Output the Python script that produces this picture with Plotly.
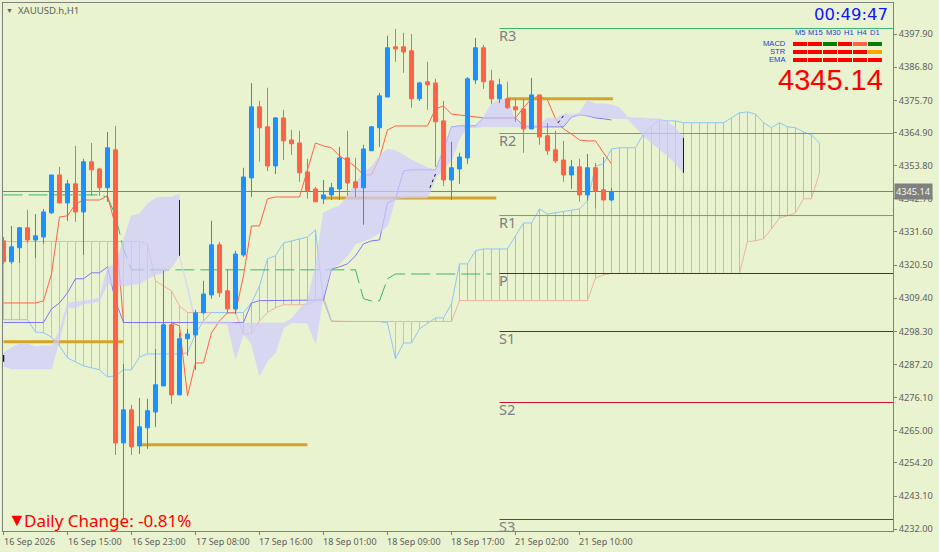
import plotly.graph_objects as go

opens = [4328.6,4321.6,4326.3,4333.0,4328.9,4329.9,4338.0,4350.7,4341.3,4347.7,4338.3,4355.1,4352.7,4346.4,4359.1,4260.9,4272.0,4259.9,4266.0,4271.3,4280.0,4300.5,4277.0,4295.8,4297.1,4304.5,4310.5,4327.3,4311.9,4305.8,4323.9,4349.7,4373.5,4366.8,4353.7,4369.8,4362.4,4361.4,4351.7,4346.0,4342.7,4344.0,4346.0,4356.4,4348.4,4346.4,4358.8,4366.5,4376.8,4393.6,4393.6,4392.3,4376.2,4381.9,4381.5,4368.8,4349.0,4352.7,4356.4,4382.5,4393.3,4382.2,4376.2,4376.2,4373.5,4372.8,4366.1,4377.5,4363.8,4359.1,4355.7,4350.7,4353.4,4344.0,4353.1,4345.7,4342.3]
closes = [4321.6,4326.6,4333.0,4328.9,4330.3,4338.3,4350.7,4341.3,4347.7,4338.3,4355.1,4352.4,4346.4,4359.8,4260.9,4272.0,4259.6,4266.3,4271.7,4280.4,4300.5,4277.0,4295.8,4297.4,4304.5,4310.8,4327.3,4311.2,4305.8,4324.2,4350.0,4373.5,4366.5,4353.7,4369.8,4362.1,4361.1,4351.4,4345.4,4341.7,4344.0,4346.4,4356.4,4348.0,4346.4,4359.4,4366.8,4377.2,4393.3,4392.9,4391.9,4376.2,4381.5,4380.9,4368.5,4349.0,4353.1,4356.7,4382.9,4393.3,4381.9,4376.2,4380.9,4373.2,4372.5,4366.1,4377.5,4363.4,4358.8,4355.4,4350.7,4353.4,4344.0,4353.1,4345.4,4342.3,4345.14]
highs = [4329.9,4333.6,4333.3,4339.0,4337.6,4339.3,4350.7,4353.4,4349.0,4360.4,4356.1,4361.4,4353.1,4365.1,4367.1,4287.4,4273.7,4276.0,4275.7,4292.4,4318.6,4301.1,4297.8,4299.1,4305.5,4315.2,4335.3,4328.3,4319.2,4325.3,4353.1,4381.5,4375.5,4379.9,4370.1,4372.5,4365.8,4365.5,4356.1,4346.7,4349.0,4348.0,4360.1,4365.5,4356.4,4360.8,4367.1,4378.2,4397.3,4399.6,4398.3,4397.9,4381.9,4388.6,4382.9,4375.5,4361.8,4358.1,4383.5,4396.6,4394.3,4385.9,4382.9,4381.9,4376.2,4376.2,4383.2,4377.5,4368.1,4365.5,4362.1,4355.7,4356.1,4357.7,4354.7,4356.7,4346.4]
lows = [4320.9,4320.9,4321.2,4327.9,4322.9,4327.6,4337.6,4341.3,4335.3,4335.0,4323.9,4343.7,4343.7,4341.7,4256.9,4235.5,4256.9,4257.2,4258.9,4266.3,4280.0,4274.0,4277.0,4290.1,4285.4,4304.1,4309.2,4309.8,4304.1,4304.1,4323.2,4343.3,4355.1,4352.0,4351.0,4355.7,4357.4,4348.4,4342.7,4341.7,4341.0,4342.3,4342.3,4343.7,4343.3,4334.0,4358.8,4360.1,4376.8,4388.6,4384.9,4373.2,4375.5,4372.5,4353.4,4347.0,4342.3,4347.7,4354.4,4381.2,4379.5,4374.5,4374.8,4372.8,4368.5,4358.1,4366.1,4360.8,4357.4,4354.7,4348.4,4346.0,4341.7,4342.0,4339.7,4342.3,4342.0]

tenkan = [4307.8,4307.8,4307.8,4307.8,4307.8,4308.5,4317.5,4336.6,4337.0,4341.0,4342.3,4342.3,4342.3,4343.7,4333.6,4301.25,4301.25,4301.25,4301.25,4301.25,4301.25,4301.25,4300.1,4276.7,4287.7,4287.7,4297.8,4301.8,4304.5,4304.5,4316.9,4333.6,4333.6,4342.7,4343.3,4343.3,4343.3,4343.3,4352.4,4361.4,4360.4,4359.8,4357.1,4355.4,4353.4,4350.7,4350.7,4356.4,4365.8,4367.1,4367.1,4367.1,4367.1,4367.1,4372.8,4373.8,4371.1,4370.8,4370.5,4370.1,4369.8,4369.8,4369.8,4369.8,4369.8,4373.2,4376.2,4377.2,4375.8,4369.5,4366.1,4364.4,4362.4,4362.1,4362.1,4358.1,4354.4]
kijun = [4301.25,4301.25,4301.25,4301.25,4301.25,4301.25,4305.8,4307.8,4311.2,4315.9,4315.9,4317.9,4317.9,4319.9,4308.5,4301.25,4301.25,4301.25,4301.25,4301.25,4301.25,4301.25,4301.25,4301.25,4301.25,4301.25,4301.25,4301.25,4301.25,4301.25,4301.25,4307.8,4308.6,4308.6,4308.6,4308.6,4308.6,4308.6,4308.6,4308.6,4308.8,4319.2,4319.9,4320.9,4323.6,4327.6,4328.6,4328.9,4341.3,4342.7,4352.0,4352.4,4352.4,4352.4,4352.4,4358.8,4366.8,4367.1,4367.1,4367.1,4369.8,4369.8,4369.8,4369.8,4369.8,4367.1,4366.8,4366.8,4366.8,4366.8,4366.8,4370.1,4370.8,4370.5,4369.8,4369.5,4369.1]
chikou = [4344.0,4344.0,4344.0,4344.0,4344.0,4344.0,4344.0,4344.0,4344.0,4344.0,4344.0,4344.0,4344.0,4343.3,4337.0,4325.9,4318.9,4318.9,4318.9,4318.9,4318.9,4318.9,4318.9,4318.9,4318.9,4318.9,4318.9,4318.9,4318.9,4318.9,4318.9,4318.9,4318.9,4318.9,4318.9,4318.9,4318.9,4318.9,4318.9,4318.9,4318.9,4318.9,4318.9,4318.9,4318.9,4309.2,4308.5,4308.5,4315.9,4317.5,4317.5,4317.5,4317.5,4317.5,4317.5,4317.5,4317.5,4317.5,4317.5,4317.5,4317.5,4317.5]
span_a = [4302.2,4302.2,4302.2,4302.2,4298.1,4297.8,4296.4,4293.4,4289.4,4288.1,4286.7,4286.1,4285.4,4283.0,4283.4,4285.4,4285.4,4289.7,4290.7,4290.7,4290.7,4290.7,4290.7,4291.1,4297.4,4301.8,4304.6,4304.6,4304.6,4304.6,4304.6,4307.8,4313.5,4322.6,4323.6,4327.9,4328.6,4329.3,4329.9,4332.3,4308.5,4301.6,4301.6,4301.6,4301.6,4301.6,4301.6,4301.6,4301.1,4289.1,4294.4,4294.4,4299.1,4301.1,4302.8,4302.8,4307.5,4320.9,4320.9,4325.3,4325.9,4325.9,4325.9,4325.9,4330.3,4334.6,4334.6,4339.3,4337.6,4338.0,4338.3,4338.7,4339.3,4342.0,4353.7,4354.4,4359.4,4359.8,4359.8,4359.8,4364.4,4367.1,4369.1,4368.8,4368.8,4368.2,4368.2,4368.2,4368.2,4368.2,4368.2,4369.8,4371.5,4371.8,4371.1,4368.2,4366.5,4368.2,4366.8,4366.5,4365.1,4364.1,4361.4]
span_b = [4328.4,4328.4,4328.4,4328.4,4328.4,4328.4,4328.4,4328.4,4328.4,4328.4,4328.4,4328.4,4328.4,4328.4,4328.4,4328.4,4328.4,4328.4,4327.6,4315.2,4313.5,4311.9,4306.8,4304.6,4304.6,4304.6,4304.6,4304.6,4304.6,4304.6,4297.4,4297.4,4301.8,4304.6,4306.2,4307.2,4307.2,4307.2,4307.2,4308.6,4309.8,4301.8,4301.6,4301.6,4301.6,4301.6,4301.6,4301.6,4301.6,4301.6,4301.6,4301.6,4301.6,4301.6,4301.6,4301.6,4301.6,4308.6,4308.6,4308.6,4308.6,4308.6,4308.6,4308.6,4308.6,4308.6,4308.6,4308.6,4308.6,4308.6,4308.6,4308.6,4308.6,4308.6,4316.2,4317.2,4317.7,4317.7,4317.7,4317.7,4317.7,4317.7,4317.7,4317.7,4317.7,4317.7,4317.7,4317.7,4317.7,4317.7,4317.7,4317.7,4317.7,4328.4,4328.6,4329.3,4332.6,4336.3,4337.0,4338.0,4342.7,4342.7,4351.4]
cloud_top = [4291.1,4292.8,4294.1,4294.1,4293.1,4293.4,4293.4,4298.5,4307.8,4308.2,4308.5,4308.8,4309.5,4319.6,4320.9,4328.6,4337.0,4337.6,4341.0,4343.0,4343.3,4343.3,4344.3,4313.5,4301.8,4301.5,4301.5,4301.5,4301.5,4301.1,4301.1,4301.1,4301.1,4301.1,4301.1,4301.1,4302.5,4305.8,4308.5,4320.2,4338.0,4339.3,4340.3,4343.7,4348.0,4351.4,4353.4,4357.1,4359.4,4358.8,4357.4,4355.7,4354.4,4353.1,4352.4,4360.4,4366.8,4367.1,4367.1,4367.1,4370.1,4374.5,4375.8,4376.2,4368.8,4367.1,4367.1,4367.5,4369.8,4369.5,4371.1,4370.8,4371.5,4375.8,4374.5,4374.5,4374.2,4373.2,4370.1,4369.8,4369.8,4369.5,4369.5,4368.5,4366.5,4363.1]
cloud_bot = [4286.7,4285.7,4285.7,4285.7,4285.7,4285.7,4285.7,4295.4,4306.2,4306.2,4307.5,4307.8,4308.5,4314.2,4313.5,4313.5,4313.9,4314.2,4315.9,4317.2,4317.9,4319.6,4323.6,4312.9,4301.1,4300.8,4300.8,4300.8,4300.8,4289.1,4297.4,4294.1,4283.4,4288.4,4291.1,4299.5,4301.1,4301.1,4301.1,4294.1,4310.2,4319.2,4320.9,4323.6,4327.6,4328.6,4329.6,4331.3,4333.6,4342.7,4343.0,4343.0,4343.0,4343.0,4349.4,4353.1,4355.4,4362.8,4366.5,4366.5,4366.8,4366.8,4366.8,4366.8,4366.8,4366.5,4366.5,4366.8,4367.1,4367.1,4367.1,4370.1,4370.5,4370.5,4370.1,4369.8,4369.8,4369.5,4369.5,4366.5,4363.8,4361.4,4359.1,4357.1,4354.7,4351.0]

assert len(opens) == len(closes) == len(highs) == len(lows) == len(tenkan) == len(kijun) == 77
assert len(span_a) == len(span_b) == 103 and len(cloud_top) == len(cloud_bot) == 86

pivot_names = ["R3", "R2", "R1", "P", "S1", "S2", "S3"]
pivot_prices = [4399.74, 4364.57, 4337.09, 4317.67, 4298.24, 4274.45, 4235.26]
pivot_colors = ["#3CB371", "#32CD32", "#32CD32", "#006400", "#CC0000", "#CC1030", "#CC1030"]
gold_prices = [4294.8, 4260.3, 4343.0, 4376.2]
gold_first = [0, 17, 40, 63]
gold_last = [15, 38, 61.6, 76.2]
ytick_vals = [4397.9,4386.8,4375.7,4364.9,4353.8,4342.7,4331.6,4320.5,4309.4,4298.3,4287.2,4276.1,4265.0,4254.2,4243.1,4232.0]
time_pos = [0, 8, 16, 24, 32, 40, 48, 56, 64, 72]
time_labels = ["16 Sep 2026","16 Sep 15:00","16 Sep 23:00","17 Sep 08:00","17 Sep 16:00","18 Sep 01:00","18 Sep 09:00","18 Sep 17:00","21 Sep 02:00","21 Sep 10:00"]
last_price = 4345.14
tf_names = ["M5", "M15", "M30", "H1", "H4", "D1"]
status_rows = {
    "MACD": ["#FF0000", "#FF0000", "#008000", "#FF0000", "#FF6347", "#008000"],
    "STR": ["#FF0000", "#FF0000", "#FF0000", "#FF0000", "#FF0000", "#FFA500"],
    "EMA": ["#FF0000", "#FF0000", "#FF0000", "#FF0000", "#FF0000", "#FF0000"],
}

BG = "#E9F3CF"
GRAY = "#808080"
TXT = "#5F5F5F"
UI = "Noto Sans"
L, R, T, B = 3, 893, 3, 531
XR = [-0.0625, 111.19]
YR = [4231.41, 4408.29]

def px(x):
    return (x - L) / (R - L)

def py(y):
    return (B - y) / (B - T)

fig = go.Figure()

def line(xs, ys, color, width=1, dash=None, opacity=None):
    fig.add_trace(go.Scatter(x=xs, y=ys, mode="lines", hoverinfo="skip",
                             line=dict(color=color, width=width, dash=dash, shape="linear"),
                             connectgaps=False, opacity=opacity))

# cloud hatching between the spans
for want_a_above, col in [(True, "#90C6F6"), (False, "#EDB3A0")]:
    hx, hy = [], []
    for i, (a, b) in enumerate(zip(span_a, span_b)):
        if (a >= b) == want_a_above:
            hx += [i, i, None]
            hy += [a, b, None]
    line(hx, hy, col)

line(list(range(len(span_b))), span_b, "#EDB3A0")
line(list(range(len(span_a))), span_a, "#90C6F6")

# pivots and current price
for p, c in zip(pivot_prices, pivot_colors):
    line([62, XR[1]], [p, p], c, 1)
line(XR, [last_price, last_price], GRAY, 1)

# chikou, tenkan, kijun
line(list(range(len(chikou))), chikou, "#3CB371", 1, "19px,6px")
line(list(range(len(tenkan))), tenkan, "#FF6347")
line(list(range(len(kijun))), kijun, "#8474F0")

# gold levels
for p, a, b in zip(gold_prices, gold_first, gold_last):
    line([a, b], [p, p], "#D4A428", 3)

# lavender cloud, two separate pieces, over the thin lines
CLOUD = "rgba(208,204,255,0.72)"
for a, b in [(0, 23), (23, 86)]:
    xs = list(range(a, b))
    fig.add_trace(go.Scatter(x=xs + xs[::-1], y=cloud_top[a:b] + cloud_bot[a:b][::-1],
                             mode="lines", fill="toself", fillcolor=CLOUD,
                             line=dict(width=0.5, color=CLOUD), hoverinfo="skip"))
line([22, 23, 24], cloud_bot[22:25], "#D8D8F5", 1.2)

# cloud end markers
line([22, 22], [cloud_top[22] - 2, cloud_bot[22]], "#2A2030", 1)
line([85, 85], [cloud_top[85], cloud_bot[85] + 0.4], "#301018", 1)
line([0, 0], [4290.4, 4288.1], "#111111", 1.5)
line([53.3, 54], [4346.4, 4351.0], "#111111", 1, "dot")
line([69.3, 70], [4368.1, 4370.5], "#111111", 1, "dot")

# candles on an overlaying copy of the axes, so that they sit on top of everything
fig.add_trace(go.Candlestick(
    x=list(range(len(opens))), open=opens, high=highs, low=lows, close=closes,
    xaxis="x2", yaxis="y2", hoverinfo="skip", whiskerwidth=0,
    increasing=dict(line=dict(color="#1E90FF", width=1), fillcolor="#1E90FF"),
    decreasing=dict(line=dict(color="#FF6347", width=1), fillcolor="#FF6347"),
))

notes = []
for p, n in zip(pivot_prices, pivot_names):
    notes.append(dict(x=62, y=p, xref="x", yref="y", text=n, showarrow=False, xanchor="left",
                      yanchor="top", xshift=-2, yshift=6, font=dict(family=UI, size=14.5, color=GRAY)))
for t, s in zip(time_pos, time_labels):
    notes.append(dict(x=t, y=0, xref="x", yref="paper", text=s, showarrow=False, xanchor="left",
                      yanchor="top", xshift=-2, yshift=-2, font=dict(family=UI, size=9, color=TXT)))

notes.append(dict(x=1, y=last_price, xref="paper", yref="y", text=f"{last_price:.2f}", showarrow=False,
                  xanchor="left", xshift=1, bgcolor=GRAY, borderpad=1,
                  font=dict(family=UI, size=9.2, color="#F4F8E8")))

def txt(x, y, s, size, color, anchor="left", family=UI):
    notes.append(dict(x=px(x), y=py(y), xref="paper", yref="paper", text=s, showarrow=False,
                      xanchor=anchor, yanchor="middle", font=dict(family=family, size=size, color=color)))

txt(4, 10, "▼", 7, "#606060")
txt(16, 10, "XAUUSD.h,H1", 9.6, "#5F5F5F")
txt(890, 15, "00:49:47", 16.5, "#1414FF", "right", "DejaVu Sans")
tf_x = [799.5, 815, 833, 849, 861.5, 875]
for x, n in zip(tf_x, tf_names):
    txt(x, 33, n, 7.5, "#2040D0", "center", "Liberation Sans")
txt(788, 43, "MACD", 7.6, "#2040D0", "right", "Liberation Sans")
txt(788, 51.5, "STR", 7.6, "#2040D0", "right", "Liberation Sans")
txt(788, 60, "EMA", 7.6, "#2040D0", "right", "Liberation Sans")
txt(885, 80, f"{last_price:.2f}", 29, "#FF0000", "right", "Liberation Sans")
txt(6, 519, "▼", 18, "#FF0000")
txt(22, 520, "Daily Change: -0.81%", 17, "#FF0000")

shapes = []
col_x = [793, 808, 823, 838, 853, 868]
for (name, cols), y in zip(status_rows.items(), [42, 50, 58]):
    for x, c in zip(col_x, cols):
        shapes.append(dict(type="rect", xref="paper", yref="paper", layer="above",
                           x0=px(x), x1=px(x + 14), y0=py(y), y1=py(y + 4), fillcolor=c, line_width=0))

axis_common = dict(showgrid=False, zeroline=False)
fig.update_layout(
    width=939, height=552, autosize=False,
    margin=dict(l=L, r=939 - R, t=T, b=552 - B, pad=0),
    paper_bgcolor=BG, plot_bgcolor=BG, showlegend=False, hovermode=False, boxgap=0.5, boxgroupgap=0,
    xaxis=dict(range=XR, tickmode="array", tickvals=time_pos, ticktext=[""] * len(time_pos),
               ticks="outside", ticklen=3, tickcolor=GRAY, showline=True, linecolor=GRAY,
               linewidth=1, mirror=True, **axis_common),
    yaxis=dict(range=YR, side="right", tickmode="array", tickvals=ytick_vals,
               ticktext=[f"{v:.2f}" for v in ytick_vals], ticks="outside", ticklen=3, tickcolor=GRAY,
               tickfont=dict(family=UI, size=9.2, color=TXT), showline=True, linecolor=GRAY,
               linewidth=1, mirror=True, **axis_common),
    xaxis2=dict(range=XR, overlaying="x", anchor="y2", visible=False, rangeslider=dict(visible=False), **axis_common),
    yaxis2=dict(range=YR, overlaying="y", anchor="x2", visible=False, **axis_common),
    annotations=notes, shapes=shapes,
)

fig.write_html("out.html", config=dict(displayModeBar=False),
               post_script="document.body.style.margin='0';document.body.style.overflow='hidden';")
